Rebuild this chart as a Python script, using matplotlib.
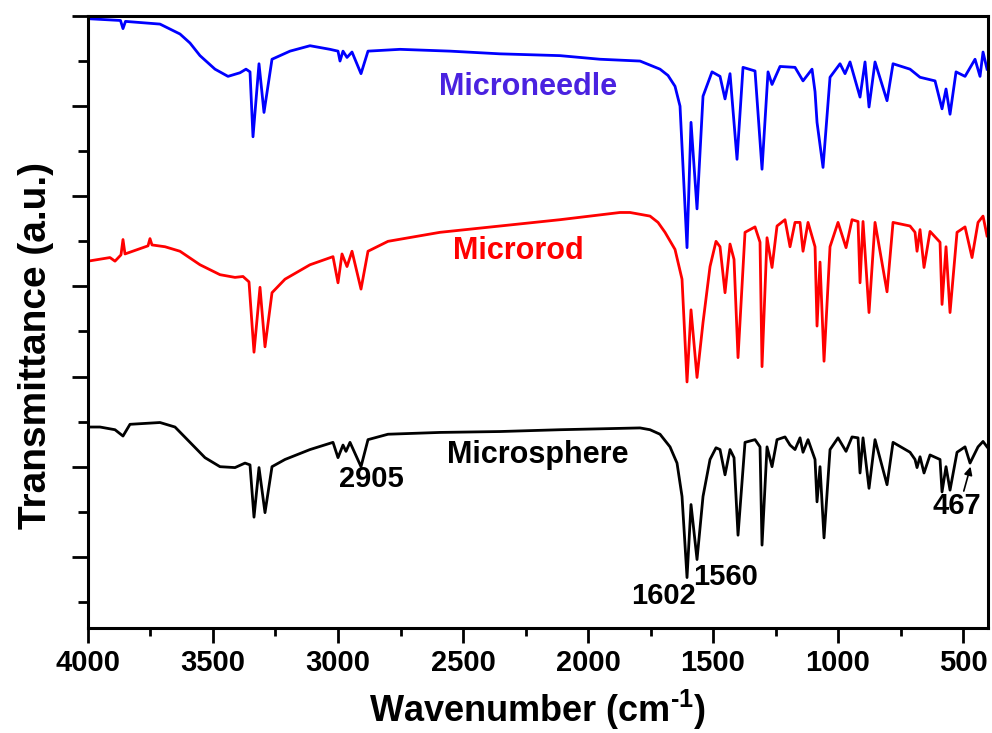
import numpy as np
import matplotlib
matplotlib.use('Agg')
import matplotlib.pyplot as plt
from matplotlib.ticker import MultipleLocator

plt.rcParams['font.family'] = ['Liberation Sans', 'DejaVu Sans']
plt.rcParams['font.weight'] = 'bold'
plt.rcParams['mathtext.fontset'] = 'custom'
plt.rcParams['mathtext.rm'] = 'Liberation Sans:bold'
plt.rcParams['mathtext.default'] = 'rm'

# spectra (wavenumber in cm-1, transmittance in a.u.)
needle_wn = [4000, 3870, 3860, 3850, 3712, 3632, 3592, 3552, 3492, 3440,
             3392, 3368, 3352, 3340, 3316, 3296, 3264, 3192, 3112, 3032,
             3000, 2992, 2980, 2964, 2944, 2908, 2880, 2752, 2552, 2352,
             2112, 1952, 1792, 1712, 1680, 1652, 1632, 1604, 1588, 1564,
             1540, 1504, 1472, 1452, 1432, 1404, 1380, 1332, 1304, 1280,
             1264, 1232, 1172, 1140, 1104, 1092, 1084, 1060, 1032, 992,
             972, 952, 912, 892, 876, 852, 804, 780, 712, 672,
             612, 584, 568, 552, 528, 492, 452, 432, 420, 404]
needle_t = [59.7, 59.5, 58.6, 59.4, 59.1, 58.0, 57.0, 55.6, 54.1, 53.3,
            53.7, 54.1, 53.8, 46.6, 54.7, 49.3, 55.2, 56.1, 56.7, 56.3,
            56.1, 55.0, 56.1, 55.4, 56.0, 53.6, 56.1, 56.3, 56.1, 55.8,
            55.6, 55.2, 55.0, 54.1, 53.4, 52.2, 50.0, 34.3, 48.2, 38.6,
            51.1, 53.8, 53.3, 50.8, 53.6, 44.1, 54.3, 53.9, 43.0, 53.8,
            52.4, 54.4, 54.3, 52.8, 54.1, 51.6, 48.2, 43.2, 53.2, 54.7,
            53.6, 54.9, 51.0, 54.9, 49.9, 54.9, 50.6, 54.7, 54.1, 53.2,
            52.8, 49.7, 51.9, 49.1, 53.8, 53.3, 55.2, 53.3, 56.0, 54.1]

rod_wn = [4000, 3912, 3892, 3868, 3860, 3852, 3760, 3752, 3744, 3692,
          3632, 3552, 3472, 3412, 3380, 3356, 3336, 3312, 3292, 3264,
          3212, 3112, 3020, 3000, 2984, 2964, 2944, 2908, 2880, 2800,
          2592, 2352, 2112, 1872, 1832, 1752, 1720, 1692, 1652, 1624,
          1604, 1588, 1564, 1540, 1512, 1488, 1472, 1452, 1432, 1416,
          1400, 1372, 1332, 1312, 1304, 1284, 1264, 1244, 1212, 1192,
          1172, 1152, 1140, 1120, 1092, 1084, 1072, 1056, 1032, 1000,
          968, 944, 920, 912, 900, 876, 852, 804, 780, 712,
          692, 684, 672, 656, 632, 592, 584, 568, 552, 524,
          492, 464, 440, 420, 404]
rod_t = [32.8, 33.2, 32.8, 33.5, 35.2, 33.6, 34.5, 35.3, 34.6, 34.4,
         33.9, 32.4, 31.3, 31.0, 31.1, 30.5, 22.7, 29.9, 23.3, 29.3,
         30.8, 32.4, 33.3, 30.4, 33.6, 32.2, 33.9, 29.7, 33.9, 35.0,
         36.0, 36.7, 37.4, 38.2, 38.2, 37.8, 37.1, 36.0, 34.1, 30.8,
         19.4, 27.4, 19.9, 26.0, 32.2, 35.0, 34.4, 29.3, 34.7, 33.0,
         22.1, 36.0, 36.6, 34.9, 21.1, 35.4, 32.1, 36.7, 37.4, 34.4,
         37.1, 37.1, 33.9, 37.1, 34.4, 25.6, 32.7, 21.7, 34.4, 37.1,
         34.3, 37.4, 37.2, 30.4, 37.2, 27.1, 37.1, 29.4, 37.1, 36.7,
         36.0, 33.9, 36.3, 32.1, 36.1, 34.9, 28.0, 34.4, 27.1, 36.0,
         36.6, 33.2, 37.1, 37.8, 35.6]

sphere_wn = [4000, 3952, 3892, 3860, 3832, 3712, 3652, 3592, 3532, 3472,
             3412, 3372, 3352, 3336, 3316, 3292, 3264, 3212, 3112, 3020,
             3000, 2980, 2968, 2952, 2908, 2880, 2800, 2592, 2352, 2112,
             1792, 1752, 1712, 1672, 1644, 1624, 1604, 1588, 1564, 1540,
             1512, 1488, 1472, 1452, 1432, 1416, 1400, 1372, 1332, 1312,
             1304, 1284, 1264, 1244, 1212, 1192, 1172, 1152, 1140, 1120,
             1092, 1084, 1072, 1056, 1032, 1000, 968, 944, 920, 912,
             900, 876, 852, 804, 780, 712, 692, 684, 672, 656,
             632, 592, 584, 568, 552, 524, 492, 472, 440, 420,
             404]
sphere_t = [14.4, 14.4, 14.1, 13.4, 14.7, 14.9, 14.4, 12.7, 11.0, 10.0,
            9.9, 10.4, 10.2, 4.4, 9.9, 4.9, 10.0, 10.8, 11.9, 12.7,
            11.0, 12.4, 11.7, 12.7, 10.0, 13.0, 13.6, 13.8, 13.9, 14.1,
            14.3, 14.1, 13.6, 12.2, 10.4, 6.7, -2.3, 5.8, -0.3, 6.7,
            10.8, 12.1, 11.9, 9.1, 11.9, 11.0, 2.4, 12.7, 13.0, 12.2,
            1.3, 12.2, 10.0, 13.0, 13.3, 12.4, 11.9, 13.2, 11.6, 13.0,
            10.8, 6.1, 10.0, 2.1, 11.9, 13.2, 11.7, 13.3, 13.2, 9.3,
            13.2, 7.6, 13.0, 8.0, 12.7, 11.6, 10.8, 9.9, 11.1, 9.3,
            11.3, 10.8, 7.2, 10.0, 7.4, 11.6, 12.2, 10.4, 12.2, 12.8,
            12.2]

series_names = ['Microneedle', 'Microrod', 'Microsphere']
peak_labels = ['2905', '1602', '1560', '467']


def main():
    fig = plt.figure(figsize=(9.92, 7.33), dpi=100)
    ax = fig.add_axes([0.0887, 0.1432, 0.9073, 0.835])

    ax.plot(needle_wn, needle_t, color='#0000ff', lw=2.0)
    ax.plot(rod_wn, rod_t, color='#ff0000', lw=2.0)
    ax.plot(sphere_wn, sphere_t, color='black', lw=2.0)

    ax.text(2240, 52.1, series_names[0], color='#4a22e0', fontsize=22,
            fontweight='bold', ha='center', va='center')
    ax.text(2280, 33.9, series_names[1], color='#ff0000', fontsize=22,
            fontweight='bold', ha='center', va='center')
    ax.text(2200, 11.3, series_names[2], color='black', fontsize=22,
            fontweight='bold', ha='center', va='center')

    ax.text(2868, 8.6, peak_labels[0], fontsize=21, fontweight='bold',
            ha='center', va='center')
    ax.text(1700, -4.4, peak_labels[1], fontsize=21, fontweight='bold',
            ha='center', va='center')
    ax.text(1448, -2.2, peak_labels[2], fontsize=21, fontweight='bold',
            ha='center', va='center')
    ax.text(524, 5.6, peak_labels[3], fontsize=21, fontweight='bold',
            ha='center', va='center')
    ax.annotate('', xy=(467, 10.3), xytext=(500, 7.0),
                arrowprops=dict(arrowstyle='-|>', color='black', lw=1.2,
                                mutation_scale=12))

    ax.set_xlim(4000, 400)
    ax.set_ylim(-7.9, 60)
    ax.xaxis.set_major_locator(MultipleLocator(500))
    ax.xaxis.set_minor_locator(MultipleLocator(250))
    ax.yaxis.set_major_locator(MultipleLocator(10))
    ax.yaxis.set_minor_locator(MultipleLocator(5))
    ax.set_yticklabels([])

    ax.tick_params(axis='x', which='major', direction='out', length=11,
                   width=2, labelsize=21, pad=4)
    ax.tick_params(axis='x', which='minor', direction='out', length=6,
                   width=2)
    ax.tick_params(axis='y', which='major', direction='out', length=11.5,
                   width=2)
    ax.tick_params(axis='y', which='minor', direction='out', length=7,
                   width=2)
    for lab in ax.get_xticklabels():
        lab.set_fontweight('bold')
    for sp in ax.spines.values():
        sp.set_linewidth(2.2)

    ax.set_xlabel(r'Wavenumber (cm$^{\text{-1}}$)', fontsize=26,
                  fontweight='bold')
    ax.set_ylabel('Transmittance (a.u.)', fontsize=28, fontweight='bold')
    ax.xaxis.set_label_coords(0.499, -0.097)
    ax.yaxis.set_label_coords(-0.038, 0.462)

    fig.savefig('out.png', dpi=100)


main()
